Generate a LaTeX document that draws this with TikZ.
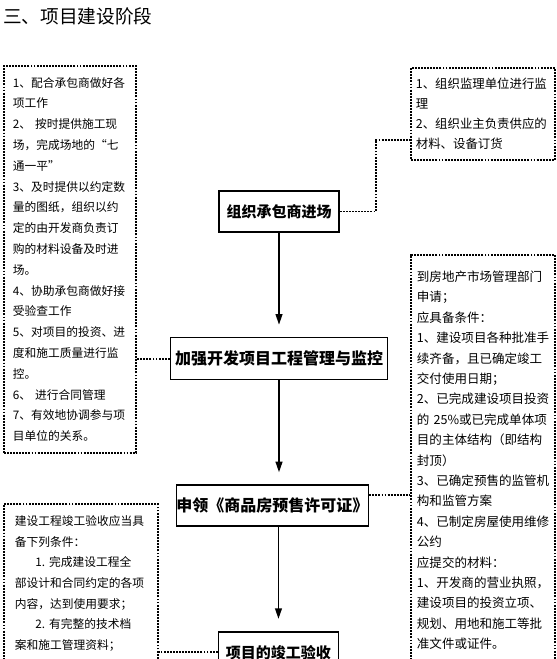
\documentclass[tikz,border=0pt]{standalone}
\usepackage{fontspec}
\setmainfont{Noto Sans CJK SC}
\usepackage{tikz}
\usetikzlibrary{arrows.meta,positioning}
\tikzset{
  % Step box in the middle column (solid)
  stepbox/.style={rectangle,draw=black,line width=1.2pt,
    fill=white,inner sep=0pt,align=center,
    font=\fontsize{11.25}{14}\selectfont\bfseries},
  % Note box at the sides (dotted)
  notebox/.style={rectangle,draw=black,line width=1.4pt,
    dash pattern=on 1.4pt off 0.9pt,anchor=north west,
    align=left,inner ysep=0pt,
    font=\fontsize{8.8}{15.6}\selectfont},
  % Arrows
  arr/.style={-{Triangle[width=5pt,length=8pt]},line width=1.4pt,
    shorten >=9pt},
  conn/.style={line width=1.4pt,dash pattern=on 1.4pt off 0.9pt},
}
\begin{document}
\begin{tikzpicture}[x=0.75pt,y=-0.75pt,node distance=78pt]
  \useasboundingbox (0,0) rectangle (556,659);
  \clip (0,0) rectangle (556,659);

  \node[anchor=west,inner sep=0pt,font=\fontsize{14}{16}\selectfont]
    (title) at (3,16) {三、项目建设阶段};

  % middle column
  \node[stepbox,minimum width=90pt,minimum height=30.75pt] (enter)
    at (279,211.5) {组织承包商进场};
  \node[stepbox,below=of enter,minimum width=162.75pt,minimum height=31.5pt,
    font=\fontsize{12}{14}\selectfont\bfseries] (control)
    {加强开发项目工程管理与监控};
  \node[stepbox,below=of control,xshift=-4.9pt,minimum width=135pt,
    minimum height=30.75pt,font=\fontsize{12}{14}\selectfont\bfseries] (permit)
    {申领《商品房预售许可证》};
  \node[stepbox,below=of permit,xshift=4.5pt,minimum width=90pt,
    minimum height=30.75pt] (accept)
    {项目的竣工验收};

  % side notes
  \node[notebox,inner xsep=6.75pt,text width=85.5pt,minimum height=290.25pt]
    (dutyL) at (3,65)
    {1、配合承包商做好各\\
     项工作\\
     2、 按时提供施工现\\
     场，完成场地的“七\\
     通一平”\\
     3、及时提供以约定数\\
     量的图纸，组织以约\\
     定的由开发商负责订\\
     购的材料设备及时进\\
     场。\\
     4、协助承包商做好接\\
     受验查工作\\
     5、对项目的投资、进\\
     度和施工质量进行监\\
     控。\\
     6、 进行合同管理\\
     7、有效地协调参与项\\
     目单位的关系。};

  \node[notebox,inner xsep=3.75pt,text width=100.5pt,minimum height=69pt,
    font=\fontsize{9.3}{15}\selectfont] (dutyR) at (410,67)
    {1、组织监理单位进行监\\
     理\\
     2、组织业主负责供应的\\
     材料、设备订货};

  \node[notebox,inner xsep=4.5pt,inner ysep=12pt,text width=99pt,
    text depth=310pt,font=\fontsize{9.4}{15.3}\selectfont] (permitR) at (410,254)
    {到房地产市场管理部门\\
     申请；\\
     应具备条件：\\
     1、建设项目各种批准手\\
     续齐备，且已确定竣工\\
     交付使用日期；\\
     2、已完成建设项目投资\\
     的 25\%或已完成单体项\\
     目的主体结构（即结构\\
     封顶）\\
     3、已确定预售的监管机\\
     构和监管方案\\
     4、已制定房屋使用维修\\
     公约\\
     应提交的材料：\\
     1、开发商的营业执照，\\
     建设项目的投资立项、\\
     规划、用地和施工等批\\
     准文件或证件。};

  \node[notebox,inner xsep=8.25pt,inner ysep=9pt,text width=99pt,
    text depth=120pt,font=\fontsize{8.8}{15.4}\selectfont] (acceptL) at (3,503)
    {建设工程竣工验收应当具\\
     备下列条件：\\
     \hspace*{1.75em}1.\ 完成建设工程全\\
     部设计和合同约定的各项\\
     内容，达到使用要求；\\
     \hspace*{1.75em}2.\ 有完整的技术档\\
     案和施工管理资料；};

  % flow
  \draw[arr] (enter.south) -- (enter.south |- control.north);
  \draw[arr] (control.south) -- (control.south |- permit.north);
  \draw[arr] (accept.north |- permit.south) -- (accept.north);

  % dotted links
  \draw[conn] (enter.east) -- ++(36,0) |- ([yshift=15.75pt]dutyR.south west);
  \draw[conn] (control.west) -- (control.west -| dutyL.east);
  \coordinate (permitE) at ([yshift=7.9pt]permit.east);
  \draw[conn] (permitE) -- (permitE -| permitR.west);
  \draw[conn] (accept.west) -- (accept.west -| acceptL.east);
\end{tikzpicture}
\end{document}
